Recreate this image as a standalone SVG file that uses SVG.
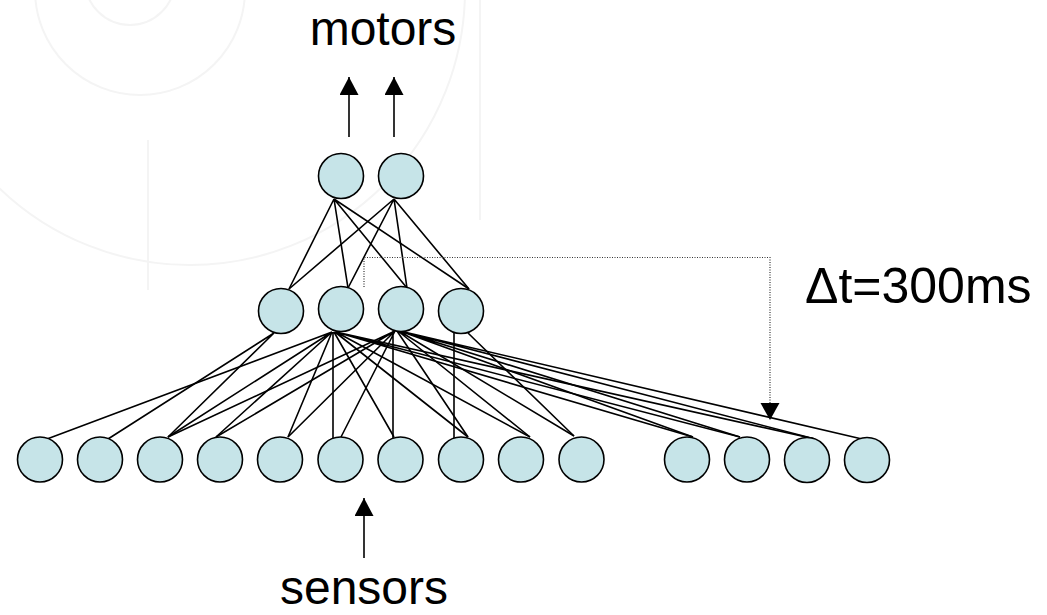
<svg xmlns="http://www.w3.org/2000/svg" width="1047" height="615" viewBox="0 0 1047 615">
<style>
.bg{fill:none;stroke:#f4f4f4;stroke-width:2}
.e{stroke:#000;stroke-width:1.6;fill:none}
.n{fill:#c6e4e8;stroke:#000;stroke-width:1.6}
.t{font-family:"Liberation Sans",Arial,sans-serif;fill:#000}
.arr{stroke:#000;stroke-width:1.6;fill:none;marker-end:url(#ah)}
.dot{stroke:#333;stroke-width:1.2;fill:none;stroke-dasharray:1 1.5}
</style>
<defs>
<marker id="ah" viewBox="0 0 18 19" refX="18" refY="9.5" markerWidth="18" markerHeight="19" markerUnits="userSpaceOnUse" orient="auto">
<path d="M0,0 L18,9.5 L0,19 Z" fill="#000"/>
</marker>
</defs>
<rect width="1047" height="615" fill="#fff"/>
<g id="watermark">
<circle class="bg" cx="130" cy="-20" r="45"/>
<circle class="bg" cx="140" cy="-10" r="105"/>
<circle class="bg" cx="190" cy="-10" r="275"/>
<line class="bg" x1="480" y1="0" x2="480" y2="220"/>
<line class="bg" x1="148" y1="140" x2="148" y2="290"/>
</g>
<g id="connectors">
<path class="e" d="M334,199 L289,289 M334,199 L348,288 M334,199 L407,288 M334,199 L469,289"/>
<path class="e" d="M394,199 L289,289 M394,199 L348,288 M394,199 L407,288 M394,199 L469,289"/>
<path class="e" d="M274,333 L108,439 M274,333 L168,437"/>
<path class="e" d="M332,332 L47,439 M332,332 L168,437 M332,332 L216,437 M332,332 L288,437 M333,332 L333,438 M334,332 L394,437 M335,332 L468,437 M336,332 L530,437 M336,332 L693,437 M336,332 L740,437 M336,332 L815,439"/>
<path class="e" d="M395,331 L168,437 M395,331 L216,437 M395,331 L288,437 M395,331 L341,437 M393,331 L393,438 M397,331 L468,437 M398,331 L530,437 M399,331 L574,436 M400,331 L693,437 M400,331 L740,437 M400,331 L815,439 M400,331 L862,439"/>
<path class="e" d="M454,332 L454,438 M468,333 L574,436"/>
<path class="arr" d="M349,137 L349,77"/>
<path class="arr" d="M394,137 L394,77"/>
<path class="arr" d="M364,558 L364,498"/>
<path class="dot" d="M364,287 V257.5 H770 V410"/>
<path d="M760.5,403 L779.5,403 L770,420 Z" fill="#000"/>
</g>
<g id="top1"><circle class="n" cx="341" cy="176" r="22.5"/></g>
<g id="top2"><circle class="n" cx="401" cy="176" r="22.5"/></g>
<g id="mid1"><circle class="n" cx="281" cy="311" r="22.5"/></g>
<g id="mid2"><circle class="n" cx="341" cy="309" r="22.5"/></g>
<g id="mid3"><circle class="n" cx="401" cy="309" r="22.5"/></g>
<g id="mid4"><circle class="n" cx="461" cy="311" r="22.5"/></g>
<g id="b1"><circle class="n" cx="40" cy="459.5" r="22.5"/></g>
<g id="b2"><circle class="n" cx="100" cy="459.5" r="22.5"/></g>
<g id="b3"><circle class="n" cx="160" cy="459.5" r="22.5"/></g>
<g id="b4"><circle class="n" cx="220" cy="459.5" r="22.5"/></g>
<g id="b5"><circle class="n" cx="280" cy="459.5" r="22.5"/></g>
<g id="b6"><circle class="n" cx="340.5" cy="459.5" r="22.5"/></g>
<g id="b7"><circle class="n" cx="400.5" cy="459.5" r="22.5"/></g>
<g id="b8"><circle class="n" cx="461" cy="459.5" r="22.5"/></g>
<g id="b9"><circle class="n" cx="521" cy="459.5" r="22.5"/></g>
<g id="b10"><circle class="n" cx="581.5" cy="459.5" r="22.5"/></g>
<g id="b11"><circle class="n" cx="687" cy="459.5" r="22.5"/></g>
<g id="b12"><circle class="n" cx="747" cy="459.5" r="22.5"/></g>
<g id="b13"><circle class="n" cx="807" cy="460" r="22.5"/></g>
<g id="b14"><circle class="n" cx="867" cy="460" r="22.5"/></g>
<g id="labels">
<text class="t" x="383" y="45" font-size="48" text-anchor="middle">motors</text>
<text class="t" x="364" y="604" font-size="48" text-anchor="middle">sensors</text>
<text class="t" x="805" y="303" font-size="50">Δt=300ms</text>
</g>
</svg>
